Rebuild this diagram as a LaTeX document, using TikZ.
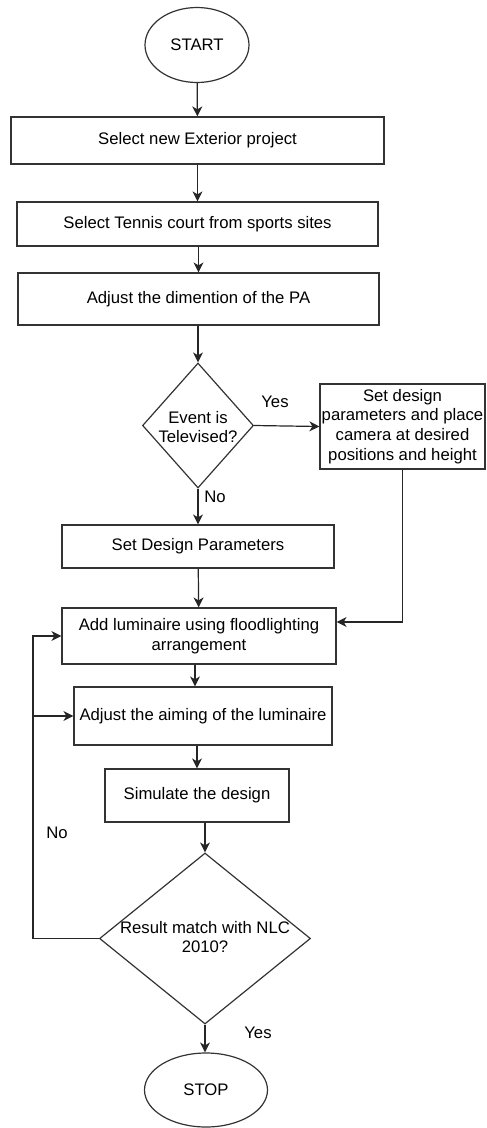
\documentclass[tikz,border=0pt]{standalone}
\usepackage{fontspec}
\setmainfont{Liberation Sans}
\usetikzlibrary{shapes.geometric,arrows.meta}
\begin{document}
\begin{tikzpicture}[x=1pt,y=-1pt,
  font=\fontsize{16.7}{19.7}\selectfont,
  every node/.style={inner sep=0pt,align=center},
  stepbox/.style={draw=black!80,line width=1.2pt,rectangle},
  terminal/.style={draw=black!80,line width=1.2pt,ellipse},
  decision/.style={draw=black!80,line width=1.2pt,diamond},
  line/.style={draw=black!85,line width=1.2pt},
  arrow/.style={line,-{Stealth[length=10pt,width=10pt,inset=3pt]}}]
\useasboundingbox (0,0) rectangle (487,1128);
% terminals
  \node[terminal,minimum width=104,minimum height=75] (start) at (197,45) {START};
  \node[terminal,minimum width=123,minimum height=74] (stop) at (206,1090) {STOP};
% process boxes
  \node[stepbox,minimum width=373,minimum height=47] (exterior) at (197.5,140.5) {Select new Exterior project};
  \node[stepbox,minimum width=361,minimum height=44] (tennis) at (197.5,224) {Select Tennis court from sports sites};
  \node[stepbox,minimum width=361,minimum height=52] (dimension) at (198.5,299) {Adjust the dimention of the PA};
  \node[stepbox,minimum width=165,minimum height=85] (camera) at (402.5,426.5) {Set design\\parameters and place\\camera at desired\\positions and height};
  \node[stepbox,minimum width=272,minimum height=43] (params) at (198,546.5) {Set Design Parameters};
  \node[stepbox,minimum width=274,minimum height=56] (luminaire) at (199,636) {Add luminaire using floodlighting\\arrangement};
  \node[stepbox,minimum width=258,minimum height=58] (aiming) at (203,716) {Adjust the aiming of the luminaire};
  \node[stepbox,minimum width=184,minimum height=53] (simulate) at (197,795.5) {Simulate the design};
% decisions
  \node[decision,minimum width=111,minimum height=125] (televised) at (198,425.5) {};
  \node (televisedtext) at (198,427) {Event is\\Televised?};
  \node[decision,minimum width=211,minimum height=171] (nlc) at (205,938.5) {};
  \node (nlctext) at (205,937) {Result match with NLC\\2010?};
% labels
  \node (yesa) at (275,402) {Yes};
  \node (noa) at (215,497) {No};
  \node (nob) at (57,833) {No};
  \node (yesb) at (258,1033) {Yes};
% connectors
  \draw[arrow] (start) -- (exterior);
  \draw[arrow] (exterior) -- (tennis);
  \draw[arrow] (tennis.south -| dimension.north) -- (dimension.north);
  \draw[arrow] (dimension.south -| televised.north) -- (televised.north);
  \draw[arrow] (televised.east) -- (camera.west);
  \draw[arrow] (televised.south) -- (televised.south |- params.north);
  \draw[arrow] (params) -- (luminaire);
  \draw[arrow] (camera.south) |- ([yshift=14pt]luminaire.east);
  \draw[arrow] ([xshift=-4pt]luminaire.south) -- ([xshift=-4pt]luminaire.south |- aiming.north);
  \draw[arrow] (simulate.north |- aiming.south) -- (simulate.north);
  \draw[arrow] (nlc.north |- simulate.south) -- (nlc.north);
  \draw[arrow] (nlc.south) -- (nlc.south |- stop.north);
% loop back
  \draw[arrow] (nlc.west) -- (33,938.5) coordinate (loop) |- (luminaire.west);
  \draw[arrow] (loop |- aiming.west) -- (aiming.west);
\end{tikzpicture}
\end{document}
